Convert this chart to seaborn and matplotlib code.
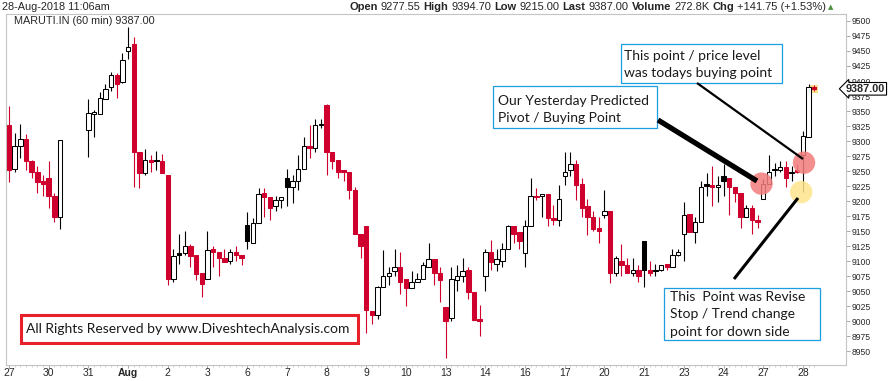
import numpy as np
import pandas as pd
import seaborn as sns
import matplotlib.pyplot as plt
from matplotlib.patches import Rectangle
from matplotlib.lines import Line2D

nan = np.nan

# MARUTI.IN 60 min candles, 7 per session (27-Jul-2018 .. 28-Aug-2018 11:06am)
opens = [9327, 9254, 9292, 9304, 9266, 9249, 9233,
         9239, 9209, 9174, nan, nan, nan, nan,
         9319, 9345, 9345, 9370, 9390, 9410, 9399,
         9450, 9462, 9281, 9246, 9269, 9269, 9266,
         9244, 9071, 9113, 9113, 9126, 9110, 9080,
         9071, 9120, 9116, 9106, 9100, 9115, 9111,
         9161, 9131, 9163, 9213, 9206, 9191, 9201,
         9238, 9224, 9234, 9254, 9292, 9289, 9326,
         9360, 9282, 9269, 9251, 9248, 9218, 9146,
         9158, 9017, 9010, 9057, 9076, 9083, 9090,
         9071, 9055, 9065, 9071, 9091, 9103, 9081,
         9023, 9005, 9068, 9075, 9086, 9048, 9003,
         9076, 9116, 9096, 9101, 9120, 9158, 9148,
         9113, 9158, 9209, 9208, 9211, 9171, 9169,
         9241, 9251, 9261, 9228, 9191, 9174, 9155,
         9176, 9184, 9081, 9101, 9093, 9081, 9086,
         9133, 9086, 9085, 9085, 9095, 9091, 9111,
         9146, 9178, 9148, 9166, 9229, 9226, 9223,
         9241, 9238, 9224, 9214, 9173, 9189, 9168,
         9204, 9228, 9251, 9252, 9257, 9246, 9251,
         9277.55, 9307, 9390]
highs = [9359, 9314, 9329, 9312, 9269, 9258, 9244,
         9267, 9214, 9301, nan, nan, nan, nan,
         9370, 9352, 9382, 9395, 9415, 9414, 9447,
         9490, 9473, 9281, 9287, 9276, 9284, 9278,
         9244, 9121, 9146, 9151, 9128, 9110, 9080,
         9151, 9126, 9116, 9120, 9121, 9126, 9111,
         9181, 9171, 9221, 9221, 9206, 9208, 9206,
         9253, 9244, 9277, 9307, 9327, 9337, 9337,
         9362, 9282, 9269, 9251, 9248, 9223, 9146,
         9158, 9017, 9058, 9118, 9091, 9121, 9115,
         9071, 9083, 9081, 9098, 9131, 9103, 9090,
         9023, 9090, 9093, 9106, 9090, 9048, 9027,
         9120, 9136, 9120, 9130, 9160, 9158, 9148,
         9168, 9238, 9221, 9211, 9211, 9194, 9226,
         9282, 9281, 9269, 9238, 9203, 9184, 9173,
         9219, 9184, 9108, 9128, 9106, 9105, 9093,
         9133, 9100, 9096, 9093, 9095, 9121, 9121,
         9198, 9178, 9174, 9234, 9246, 9258, 9241,
         9261, 9238, 9224, 9214, 9193, 9193, 9176,
         9236, 9276, 9264, 9266, 9267, 9258, 9262,
         9316, 9394.7, 9394]
lows = [9231, 9248, 9272, 9251, 9239, 9214, 9209,
        9189, 9166, 9153, nan, nan, nan, nan,
        9274, 9307, 9345, 9370, 9384, 9372, 9397,
        9437, 9223, 9221, 9244, 9249, 9251, 9246,
        9060, 9065, 9096, 9111, 9091, 9068, 9040,
        9071, 9091, 9075, 9098, 9096, 9100, 9093,
        9120, 9131, 9163, 9174, 9169, 9183, 9189,
        9191, 9196, 9218, 9254, 9271, 9281, 9321,
        9244, 9254, 9238, 9233, 9204, 9146, 9105,
        8980, 8995, 9003, 9057, 9060, 9075, 9045,
        9025, 9055, 9065, 9071, 9091, 9061, 9032,
        8939, 9000, 9050, 9065, 9037, 9002, 8975,
        9050, 9086, 9083, 9091, 9120, 9130, 9121,
        9090, 9158, 9201, 9174, 9158, 9161, 9158,
        9226, 9241, 9201, 9173, 9143, 9151, 9131,
        9171, 9063, 9075, 9076, 9080, 9075, 9065,
        9057, 9075, 9075, 9083, 9086, 9091, 9108,
        9100, 9148, 9131, 9166, 9208, 9191, 9198,
        9208, 9176, 9198, 9156, 9173, 9145, 9156,
        9203, 9228, 9241, 9249, 9224, 9233, 9246,
        9215, 9307, 9383]
closes = [9251, 9292, 9304, 9266, 9248, 9231, 9229,
          9208, 9174, 9301, nan, nan, nan, nan,
          9347, 9349, 9372, 9387, 9410, 9395, 9435,
          9457, 9281, 9246, 9269, 9265, 9266, 9246,
          9071, 9108, 9110, 9126, 9108, 9078, 9062,
          9118, 9116, 9105, 9098, 9115, 9111, 9106,
          9133, 9163, 9211, 9206, 9189, 9201, 9206,
          9224, 9234, 9254, 9292, 9289, 9327, 9329,
          9281, 9267, 9249, 9248, 9218, 9146, 9126,
          9018, 9010, 9057, 9076, 9080, 9090, 9065,
          9055, 9065, 9071, 9093, 9103, 9081, 9068,
          9000, 9070, 9075, 9083, 9048, 9002, 9000,
          9115, 9098, 9103, 9120, 9158, 9145, 9133,
          9158, 9209, 9207, 9211, 9171, 9168, 9203,
          9249, 9261, 9226, 9189, 9173, 9153, 9151,
          9184, 9081, 9105, 9093, 9081, 9086, 9075,
          9086, 9081, 9083, 9093, 9091, 9111, 9115,
          9176, 9148, 9166, 9224, 9225, 9224, 9226,
          9233, 9224, 9214, 9173, 9189, 9169, 9166,
          9228, 9249, 9254, 9257, 9238, 9249, 9248,
          9309, 9390, 9387]

day_labels = ['27', '30', '31', 'Aug', '2', '3', '6', '7', '8', '9', '10',
              '13', '14', '16', '17', '20', '21', '23', '24', '27', '28']
candles_per_day = 7
price_ticks = list(range(8950, 9501, 25))
last_price = 9387.00

header_left = '28-Aug-2018 11:06am'
header_parts = [('Open', 'bold'), ('9277.55', 'normal'), ('High', 'bold'), ('9394.70', 'normal'),
                ('Low', 'bold'), ('9215.00', 'normal'), ('Last', 'bold'), ('9387.00', 'normal'),
                ('Volume', 'bold'), ('272.8K', 'normal'), ('Chg', 'bold'), ('+141.75 (+1.53%)', 'normal')]

# highlighted points (candle index, price)
mark_idx = [132.7, 140.2, 139.7]
mark_price = [9229, 9264, 9215]
mark_kind = ['pivot', 'buy', 'stop']

df = pd.DataFrame({'open': opens, 'high': highs, 'low': lows, 'close': closes})
df['x'] = np.arange(len(df))
prev = df['close'].shift()
up = df['close'] >= df['open']
dark = ~up & (df['close'] > prev)

RED = '#d0002e'
face = np.where(up, 'white', np.where(dark, 'black', RED))
edge = np.where(up, 'black', np.where(dark, 'black', RED))
wick = np.where(up | dark, 'black', RED)

sns.set_style('white')
plt.rcParams['font.family'] = ['Liberation Sans', 'DejaVu Sans']
NARROW = ['Liberation Sans Narrow', 'Liberation Sans', 'DejaVu Sans']

W, H = 891, 381
fig = plt.figure(figsize=(W / 100, H / 100), dpi=100)
ax = fig.add_axes([6 / W, 16 / H, 840 / W, 351 / H])


def fp(x, y):
    return (x / W, 1 - y / H)


ok = df.dropna()
ax.vlines(ok['x'], ok['low'], ok['high'], colors=wick[ok.index], linewidth=0.8, zorder=2)
body_h = (ok['close'] - ok['open']).abs().clip(lower=1.5)
body_b = ok[['open', 'close']].min(axis=1)
ax.bar(ok['x'], body_h, bottom=body_b, width=0.78, color=face[ok.index],
       edgecolor=edge[ok.index], linewidth=0.75, zorder=3)

# highlight behind the last candle
ax.scatter([df['x'].iloc[-1]], [last_price], marker='s', s=30, color='#fbe38a', zorder=1, linewidths=0)

marks = pd.DataFrame({'x': mark_idx, 'price': mark_price, 'kind': mark_kind})
sns.scatterplot(data=marks, x='x', y='price', hue='kind',
                palette={'pivot': '#f27c7c', 'buy': '#f27c7c', 'stop': '#fde58c'},
                s=260, alpha=0.85, linewidth=0, legend=False, zorder=5, ax=ax)

ax.set_xlim(-0.53, 147.6)
ax.set_ylim(8927, 9511.6)
ax.set_xlabel('')
ax.set_ylabel('')

day_ticks = np.arange(len(day_labels)) * candles_per_day
ax.set_xticks(day_ticks)
ax.set_xticklabels(day_labels, family=NARROW, fontsize=7.5)
for lab in ax.get_xticklabels():
    if lab.get_text() == 'Aug':
        lab.set_fontweight('bold')
ax.set_xticks(df['x'], minor=True)
ax.tick_params(axis='x', which='major', length=2, width=0.6, color='#999999', pad=0.5, bottom=True)
ax.tick_params(axis='x', which='minor', length=1.5, width=0.5, color='#bbbbbb', bottom=True)

ax.yaxis.tick_right()
ax.set_yticks(price_ticks)
ax.set_yticklabels([str(p) for p in price_ticks], fontsize=6.2)
ax.tick_params(axis='y', length=3, width=0.6, color='#999999', pad=1, right=True)

for s in ax.spines.values():
    s.set_color('#c4c4c4')
    s.set_linewidth(0.8)

# last price tag on the axis
ax.text(1.0, last_price, '%.2f' % last_price, transform=ax.get_yaxis_transform(),
        ha='left', va='center', fontsize=7.8, fontweight='bold', family=NARROW,
        bbox=dict(boxstyle='larrow,pad=0.12', fc='white', ec='black', lw=0.8),
        clip_on=False, zorder=10)

# title inside the chart
ax.text(*fp(14, 21), 'MARUTI.IN (60 min) 9387.00', transform=fig.transFigure,
        fontsize=7.8, va='center', ha='left')

# header line
fig.text(*fp(2, 7), header_left, family=NARROW, fontsize=7.8, va='center', ha='left')
renderer = fig.canvas.get_renderer()
pieces = []
for txt, wt in header_parts:
    t = fig.text(0, fp(0, 7)[1], txt, family=NARROW, fontsize=8, fontweight=wt,
                 va='center', ha='left')
    pieces.append(t)
widths = [t.get_window_extent(renderer).width for t in pieces]
gap = 3
xpos = 826 - (sum(widths) + gap * (len(widths) - 1))
for t, w in zip(pieces, widths):
    t.set_x(xpos / W)
    xpos += w + gap
fig.text(*fp(828, 7), '\u25b2', family='DejaVu Sans', fontsize=5, color='#4f8f3a',
         va='center', ha='left')

# annotation boxes
BLUE = '#1c9ee0'
NOTE = ['Lato', 'DejaVu Sans']


def note(x0, y0, x1, y1, lines, tx, ty, dy, color=BLUE, lw=0.9, size=10):
    fig.add_artist(Rectangle(fp(x0, y1), (x1 - x0) / W, (y1 - y0) / H,
                             transform=fig.transFigure, fc='white', ec=color, lw=lw, zorder=6))
    for i, line in enumerate(lines):
        fig.text(*fp(tx, ty + i * dy), line, family=NOTE, fontsize=size,
                 va='center', ha='left', color='#1a1a1a', zorder=7)


note(621, 44, 782, 83, ['This point / price level', 'was todays buying point'], 624, 56, 17)
note(493, 86, 657, 128, ['Our Yesterday Predicted', 'Pivot / Buying Point'], 498, 101, 17)
note(664, 288, 820, 340, ['This  Point was Revise', 'Stop / Trend change', 'point for down side'],
     670, 297, 17.5)
note(21, 315, 358, 343, ['All Rights Reserved by www.DiveshtechAnalysis.com'], 26, 329, 0,
     color='#e8202a', lw=2.2, size=10)

# pointer lines
for (x0, y0, x1, y1, lw) in [(658, 120, 757, 181, 3.8), (697, 83, 803, 159, 1.6), (734, 279, 798, 198, 2.2)]:
    fig.add_artist(Line2D([x0 / W, x1 / W], [1 - y0 / H, 1 - y1 / H], transform=fig.transFigure,
                          color='black', lw=lw, solid_capstyle='butt', zorder=8))

fig.savefig('out.png', dpi=100)
